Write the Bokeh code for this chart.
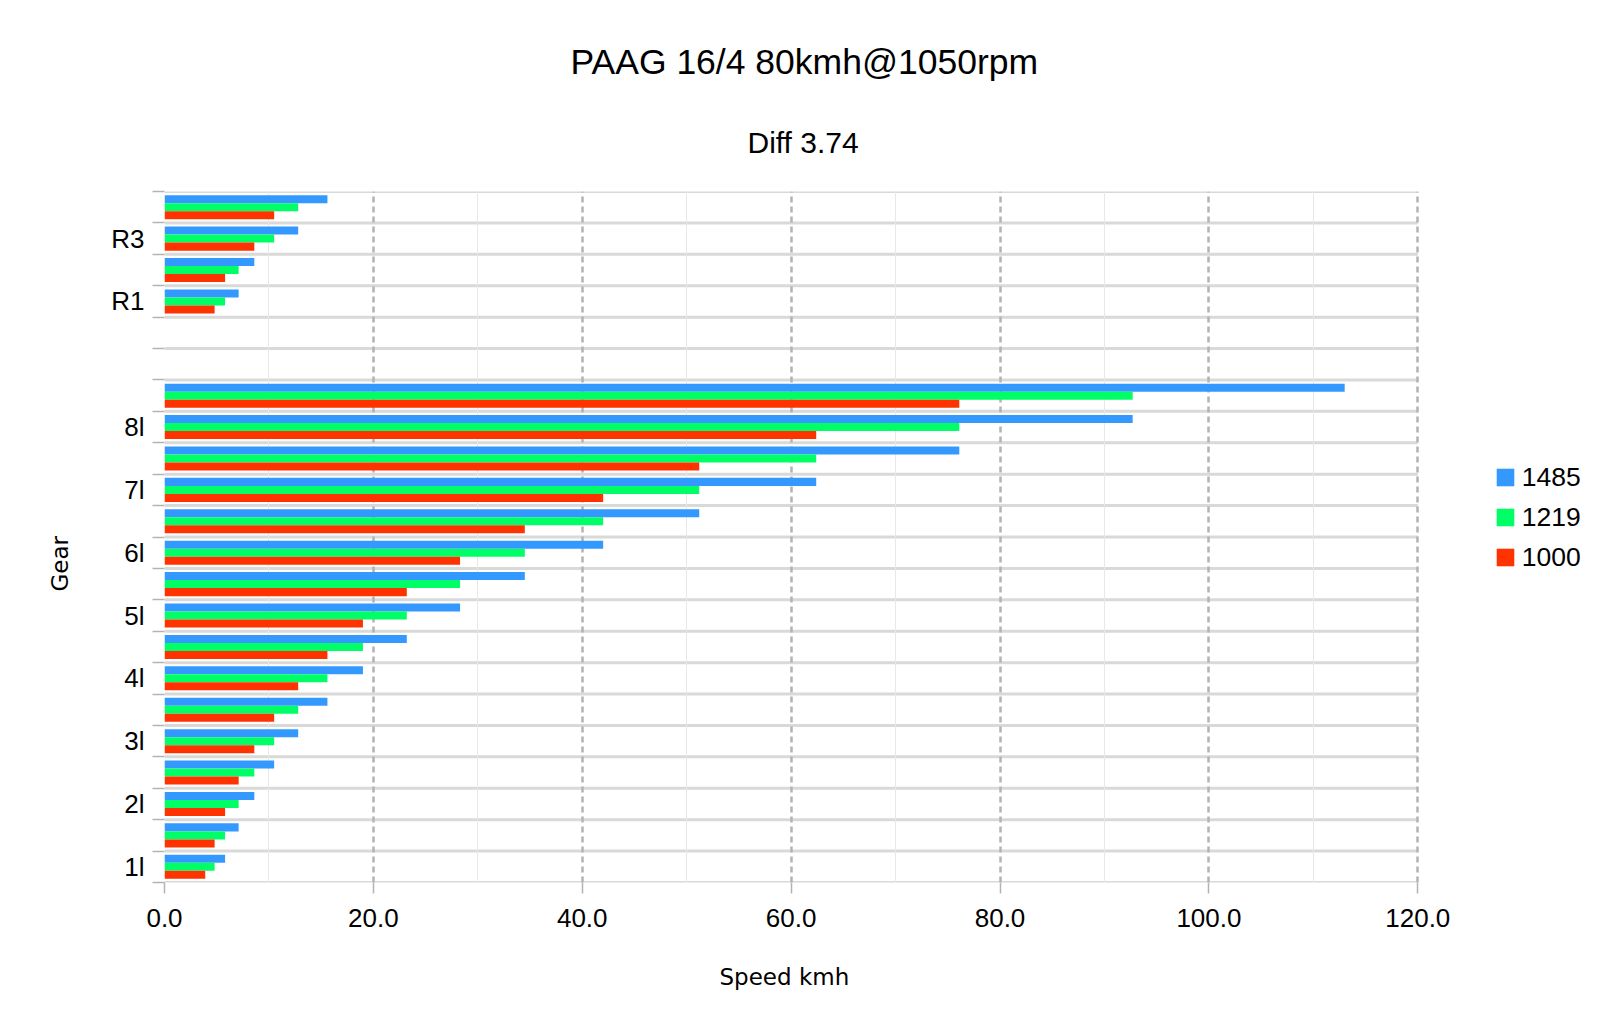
import math
from bokeh.plotting import figure
from bokeh.models import (ColumnDataSource, Range1d, FixedTicker,
                          PrintfTickFormatter, Legend, LegendItem, Title)
from bokeh.transform import dodge
from bokeh.embed import file_html
from bokeh.resources import INLINE

# ---------------- data ----------------
title_text = "PAAG 16/4 80kmh@1050rpm"
subtitle_text = "Diff 3.74"
x_title = "Speed kmh"
y_title = "Gear"

gears = ["1l", "1h", "2l", "2h", "3l", "3h", "4l", "4h", "5l", "5h", "6l", "6h",
         "7l", "7h", "8l", "8h", "", " ", "R1", "R2", "R3", "R4"]
rpm_1485 = [5.8, 7.1, 8.6, 10.5, 12.8, 15.6, 19.0, 23.2, 28.3, 34.5, 42.0, 51.2,
            62.4, 76.1, 92.7, 113.0, None, None, 7.1, 8.6, 12.8, 15.6]
rpm_1219 = [4.8, 5.8, 7.1, 8.6, 10.5, 12.8, 15.6, 19.0, 23.2, 28.3, 34.5, 42.0,
            51.2, 62.4, 76.1, 92.7, None, None, 5.8, 7.1, 10.5, 12.8]
rpm_1000 = [3.9, 4.8, 5.8, 7.1, 8.6, 10.5, 12.8, 15.6, 19.0, 23.2, 28.3, 34.5,
            42.0, 51.2, 62.4, 76.1, None, None, 4.8, 5.8, 8.6, 10.5]
series_names = ["1485", "1219", "1000"]
series_colors = ["#3399ff", "#00ff66", "#ff3300"]
x_tick_values = [0, 20, 40, 60, 80, 100, 120]
x_minor_values = [10, 30, 50, 70, 90, 110]

# ---------------- layout constants (pixels) ----------------
FONT = "Liberation Sans"
AXFONT = "DejaVu Sans"
W, H = 1607, 1033
FRAME_L, FRAME_T, FRAME_B = 164, 191, 882
AXIS_END_PX = 1417.3          # pixel where the value axis ends (x = 120)
FRAME_R = 1600                 # frame extended so the legend can live inside it

n = len(gears)
pos = list(range(n))
x0, x1 = x_tick_values[0], x_tick_values[-1]
x_end = x0 + (x1 - x0) * (FRAME_R - FRAME_L) / (AXIS_END_PX - FRAME_L)


def clean(vals):
    return [float("nan") if v is None else v for v in vals]


src = ColumnDataSource(dict(pos=pos, gear=gears,
                            s0=clean(rpm_1485), s1=clean(rpm_1219), s2=clean(rpm_1000)))

p = figure(width=W, height=H,
           x_range=Range1d(x0, x_end),
           y_range=Range1d(-0.5, n - 0.5),
           output_backend="svg", toolbar_location=None, title=None,
           min_border_left=FRAME_L, min_border_right=W - FRAME_R,
           min_border_top=FRAME_T, min_border_bottom=H - FRAME_B)
p.outline_line_color = None
p.background_fill_color = "white"
p.border_fill_color = "white"

# category boundary lines (horizontal grid), limited to the value axis extent
boundaries = [i - 0.5 for i in range(n + 1)]
p.segment(x0=[x0] * len(boundaries), x1=[x1] * len(boundaries),
          y0=boundaries, y1=boundaries, line_color="#d9d9d9", line_width=3,
          level="underlay")

bar_h = 0.255
offsets = [bar_h, 0.0, -bar_h]
renderers = []
for i, (name, col) in enumerate(zip(series_names, series_colors)):
    r = p.hbar(y=dodge("pos", offsets[i]), right=f"s{i}", left=0, height=bar_h,
               source=src, fill_color=col, line_color=None)
    renderers.append(r)

# titles (subtitle first = closest to the frame)
p.add_layout(Title(text=subtitle_text, align="left", offset=583, text_font=FONT,
                   text_font_size="30px", text_font_style="normal",
                   text_color="#000000", standoff=66), "above")
p.add_layout(Title(text=title_text, align="left", offset=406, text_font=FONT,
                   text_font_size="35.5px", text_font_style="normal",
                   text_color="#000000", standoff=18), "above")

# x axis
xa = p.xaxis[0]
xa.ticker = FixedTicker(ticks=x_tick_values, minor_ticks=x_minor_values)
xa.formatter = PrintfTickFormatter(format="%.1f")
xa.axis_line_color = None
xa.major_tick_out = 11
xa.major_tick_in = 0
xa.major_tick_line_color = "#b3b3b3"
xa.major_tick_line_width = 1.5
xa.minor_tick_out = 0
xa.minor_tick_in = 0
xa.major_label_text_font = FONT
xa.major_label_text_font_size = "26px"
xa.major_label_text_color = "#000000"
xa.major_label_standoff = 15

# x axis title (placed under the value axis, as in the reference)
p.add_layout(Title(text=x_title, align="left", offset=555, text_font=AXFONT,
                   text_font_size="23px", text_font_style="normal",
                   text_color="#000000", standoff=65), "below")

# y axis
label_ticks = [i for i in range(0, n, 2) if gears[i].strip()]
ya = p.yaxis[0]
ya.ticker = FixedTicker(ticks=label_ticks, minor_ticks=boundaries)
ya.major_label_overrides = {i: gears[i] for i in label_ticks}
ya.axis_line_color = None
ya.major_tick_out = 0
ya.major_tick_in = 0
ya.major_tick_line_color = None
ya.minor_tick_out = 12
ya.minor_tick_in = 0
ya.minor_tick_line_color = "#b3b3b3"
ya.minor_tick_line_width = 1.5
ya.major_label_text_font = FONT
ya.major_label_text_font_size = "26px"
ya.major_label_text_color = "#000000"
ya.major_label_standoff = 8

# y axis title
p.add_layout(Title(text=y_title, align="left", offset=291, text_font=AXFONT,
                   text_font_size="23px", text_font_style="normal",
                   text_color="#000000", standoff=72), "left")

# grids
p.ygrid.visible = False
p.xgrid.grid_line_color = "#b3b3b3"
p.xgrid.grid_line_width = 2.5
p.xgrid.grid_line_dash = "6 4"
p.xgrid.minor_grid_line_color = "#e8e8e8"
p.xgrid.minor_grid_line_width = 1

# legend (inside the extended frame, to the right of the value axis)
legend = Legend(items=[LegendItem(label=nm, renderers=[r]) for nm, r in zip(series_names, renderers)],
                location=(1496 - 2.2 - FRAME_L, 309.5), orientation="vertical",
                glyph_width=22, glyph_height=22, label_height=22, spacing=9,
                label_standoff=6, padding=0, margin=0,
                border_line_color=None, background_fill_alpha=0,
                label_text_font=FONT, label_text_font_size="26.5px",
                label_text_color="#000000")
p.add_layout(legend)

open("out.html", "w").write(file_html(p, INLINE))
